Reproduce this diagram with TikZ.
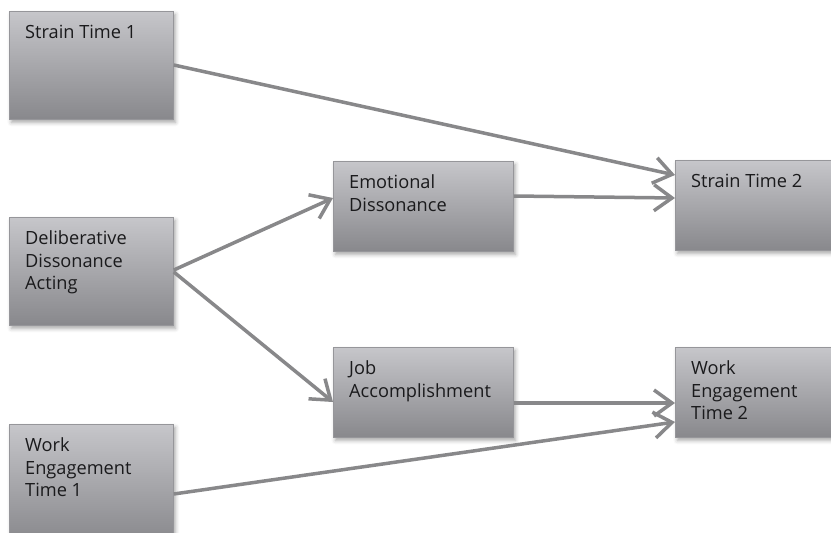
\documentclass[tikz,border=0pt]{standalone}
\usepackage{fontspec}
\setmainfont{Open Sans}
\usetikzlibrary{arrows.meta,calc,shadows.blur}

\definecolor{boxtop}{RGB}{198,198,202}
\definecolor{boxbot}{RGB}{136,136,140}
\definecolor{boxline}{RGB}{150,150,154}
\definecolor{linkgray}{RGB}{136,136,138}
\definecolor{inkgray}{RGB}{26,26,28}

\tikzset{
  varbox/.style={draw=boxline, line width=0.8pt,
    top color=boxtop, bottom color=boxbot,
    inner sep=0pt, anchor=north west,
    blur shadow={shadow xshift=2pt, shadow yshift=-3pt,
      shadow blur radius=4pt, shadow opacity=35}},
  widebox/.style={varbox, minimum width=164pt, minimum height=108pt},
  midbox/.style={varbox, minimum width=180pt, minimum height=90pt},
  boxtext/.style={anchor=north west, inner sep=0pt, align=left,
    text=inkgray, font=\fontsize{18.2}{22.5}\selectfont},
  link/.style={draw=linkgray, line width=3.5pt,
    -{Straight Barb[length=18pt, width=26pt]}}
}
\newcommand{\firstline}{\rule{0pt}{13pt}}

\begin{document}
\begin{tikzpicture}[x=1pt, y=-1pt]
  \useasboundingbox (0,0) rectangle (831,533);
  \clip (0,0) rectangle (831,533);

  % variable boxes
  \node[widebox] (st1)  at (9,11)   {};
  \node[widebox] (dda)  at (9,217)  {};
  \node[widebox, minimum height=118pt] (wet1) at (9,424) {};
  \node[midbox]  (ed)   at (333,161) {};
  \node[midbox]  (ja)   at (333,347) {};
  \node[midbox]  (st2)  at (675,160) {};
  \node[midbox]  (wet2) at (675,347) {};

  % box labels
  \node[boxtext] (st1t)  at ($(st1.north west)+(16,13.5)$)  {\firstline Strain Time 1};
  \node[boxtext] (ddat)  at ($(dda.north west)+(16,13.5)$)  {\firstline Deliberative\\Dissonance\\Acting};
  \node[boxtext] (wet1t) at ($(wet1.north west)+(16,13.5)$) {\firstline Work\\Engagement\\Time 1};
  \node[boxtext] (edt)   at ($(ed.north west)+(16,13.5)$)   {\firstline Emotional\\Dissonance};
  \node[boxtext] (jat)   at ($(ja.north west)+(16,13.5)$)   {\firstline Job\\Accomplishment};
  \node[boxtext] (st2t)  at ($(st2.north west)+(16,13.5)$)  {\firstline Strain Time 2};
  \node[boxtext] (wet2t) at ($(wet2.north west)+(16,13.5)$) {\firstline Work\\Engagement\\Time 2};

  % paths
  \draw[link] ($(st1.north east)+(0,54)$)  -- ($(st2.north west)+(0,15)$);
  \draw[link] ($(ed.north east)+(0,35)$)   -- ($(st2.north west)+(0,38)$);
  \draw[link] ($(dda.north east)+(0,53)$)  -- ($(ed.north west)+(0,37)$);
  \draw[link] ($(dda.north east)+(0,55)$)  -- ($(ja.north west)+(0,55)$);
  \draw[link] ($(ja.north east)+(0,56)$)   -- ($(wet2.north west)+(0,56)$);
  \draw[link] ($(wet1.north east)+(0,70)$) -- ($(wet2.north west)+(0,75)$);
\end{tikzpicture}
\end{document}
